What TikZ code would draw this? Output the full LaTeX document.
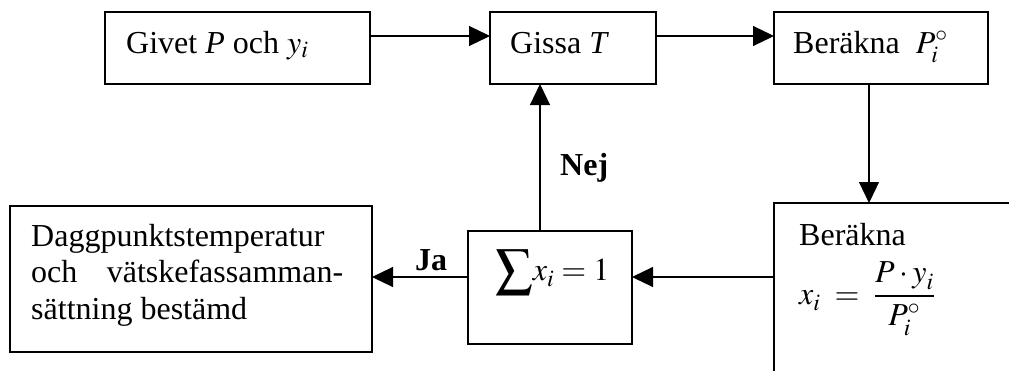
\documentclass[tikz,border=0pt]{standalone}
\usepackage{mathptmx}
\usepackage[no-math]{fontspec}
\setmainfont{Liberation Serif}
\usetikzlibrary{arrows.meta}
\begin{document}
\begin{tikzpicture}[x=1pt,y=-1pt,
  box/.style={draw, line width=1.2pt, inner sep=0pt, outer sep=0pt, anchor=north west},
  lbl/.style={anchor=base west, inner sep=0pt, font=\fontsize{32}{36.7}\selectfont},
  arr/.style={line width=1.2pt, -{Triangle[length=21pt,width=20pt]}}]
\useasboundingbox (0,0) rectangle (1009,370);
\clip (0,0) rectangle (1009,370);
% boxes
\node[box, minimum width=265pt, minimum height=72pt] (giv) at (105,12) {};
\node[box, minimum width=166pt, minimum height=72pt] (giss) at (490,12) {};
\node[box, minimum width=214pt, minimum height=72pt] (ber1) at (774,12) {};
\node[box, minimum width=300pt, minimum height=250pt] (ber2) at (774,203) {};
\node[box, minimum width=164pt, minimum height=113pt] (sum) at (468,231) {};
\node[box, minimum width=362pt, minimum height=146pt] (dag) at (10,206) {};
% texts
\node[lbl] (tgiv) at (126,53) {Givet \textit{P} och $y_i$};
\node[lbl] (tgiss) at (510,53) {Gissa \textit{T}};
\node[lbl] (tber1) at (793,53) {Beräkna \ $P_{\raisebox{-2pt}{$\scriptstyle i$}}^{\circ}$};
\node[lbl] (tber2) at (799,245) {Beräkna};
\node[lbl] (tfrac) at (799,304) {$\displaystyle x_{\raisebox{-2pt}{$\scriptstyle i$}} \;=\; \frac{P\cdot y_{\raisebox{-2pt}{$\scriptstyle i$}}}{P_{\raisebox{-2pt}{$\scriptstyle i$}}^{\circ}}$};
\node[lbl] (tsum) at (495,280) {$\vcenter{\hbox{\scalebox{1.15}{$\displaystyle\sum$}}} x_{\raisebox{-2pt}{$\scriptstyle i$}} = 1$};
\node[lbl, text width=312pt, align=justify] (tdag) at (31,246)
  {Daggpunktstemperatur\linebreak och vätskefassamman-\linebreak sättning bestämd};
\node[lbl] (nej) at (560,175) {\bfseries Nej};
\node[lbl] (ja) at (415,270) {\bfseries Ja};
% helper coordinates
\coordinate (yTop) at (0,36);
\coordinate (yMid) at (0,277);
\coordinate (xRight) at (869,0);
\coordinate (xLeft) at (540,0);
% connectors
\draw[arr] (giv.east |- yTop) -- (giss.west |- yTop);
\draw[arr] (giss.east |- yTop) -- (ber1.west |- yTop);
\draw[arr] (ber1.south -| xRight) -- (ber2.north -| xRight);
\draw[arr] (ber2.west |- yMid) -- (sum.east |- yMid);
\draw[arr] (sum.west |- yMid) -- (dag.east |- yMid);
\draw[arr] (sum.north -| xLeft) -- (giss.south -| xLeft);
\end{tikzpicture}
\end{document}
